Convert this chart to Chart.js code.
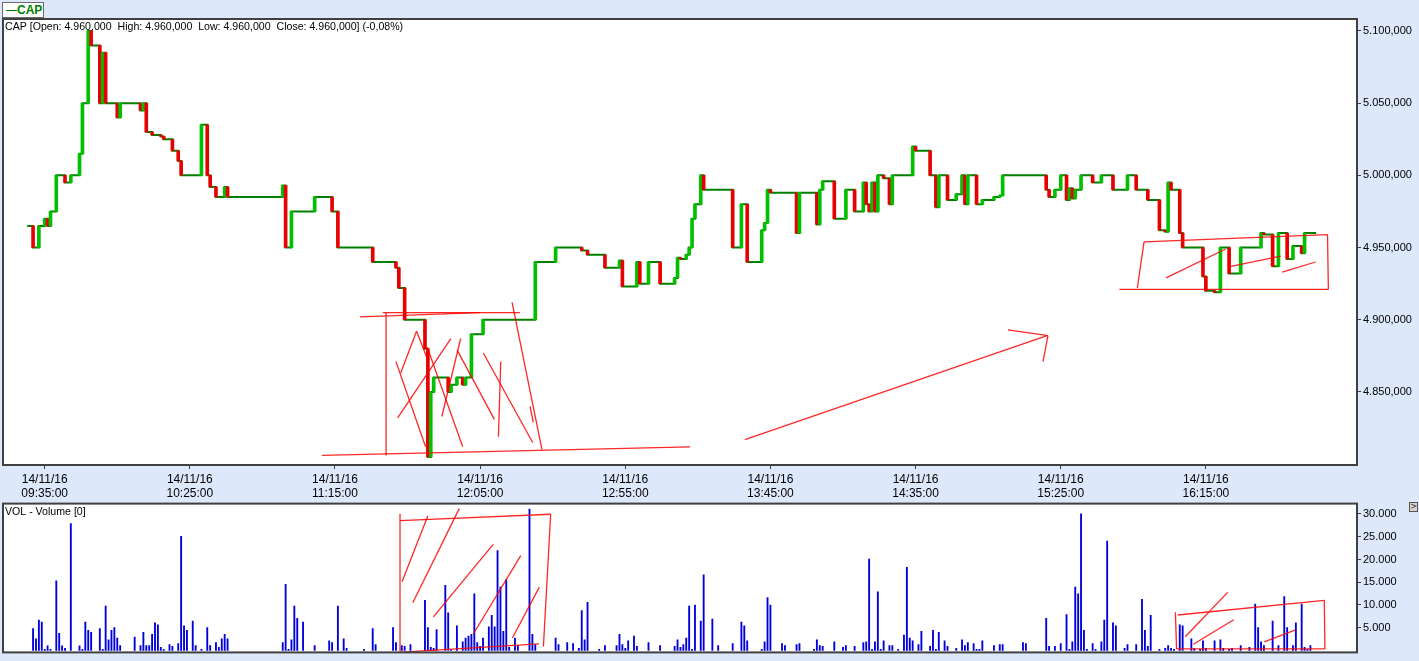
<!DOCTYPE html>
<html>
<head>
<meta charset="utf-8">
<title>CAP</title>
<script src="https://cdn.jsdelivr.net/npm/chart.js@4.4.0/dist/chart.umd.min.js"></script>
<style>
  html, body { margin: 0; padding: 0; width: 1419px; height: 661px; overflow: hidden; background: #dde8fb; }
  canvas { position: absolute; left: 0; }
  #priceChart { top: 0; }
  #volChart { top: 495px; }
  #legend { position: absolute; left: 2px; top: 2px; width: 40px; height: 14px; background: #fff; border: 1px solid #6a6a6a; }
  #legend .dash { position: absolute; left: 3px; top: 7px; width: 11px; height: 1px; background: #008000; }
  #legend .name { position: absolute; left: 14px; top: 0px; font: bold 12px "Liberation Sans", Arial, sans-serif; color: #008000; }
  #more { position: absolute; left: 1409px; top: 502px; width: 7px; height: 8px; border: 1px solid #555; background: #d6d3cc;
          font: 8px/8px "DejaVu Sans", sans-serif; text-align: center; color: #333; }
</style>
</head>
<body>
<canvas id="priceChart" width="1419" height="500"></canvas>
<canvas id="volChart" width="1419" height="166"></canvas>
<div id="legend"><span class="dash"></span><span class="name">CAP</span></div>
<div id="more">&gt;</div>
<script>
// session info
const sessionDate = '14/11/16';
const sessionStart = '09:35';
const changeText = '(-0,08%)';

// 1 minute bars (only the minutes where something moved)
const barTimes = ['09:29','09:31','09:33','09:35','09:36','09:37','09:39','09:42','09:44','09:47',
  '09:48','09:50','09:51','09:54','09:55','09:56','10:00','10:01','10:08','10:09',
  '10:10','10:12','10:15','10:16','10:19','10:21','10:22','10:29','10:31','10:32',
  '10:34','10:37','10:38','10:57','10:58','11:00','11:08','11:14','11:16','11:28',
  '11:36','11:37','11:39','11:46','11:47','11:48','11:49','11:54','11:55','11:57',
  '11:59','12:00','12:02','12:06','12:24','12:31','12:40','12:42','12:48','12:53',
  '12:54','12:59','13:00','13:03','13:07','13:12','13:13','13:14','13:16','13:17',
  '13:18','13:19','13:21','13:22','13:32','13:35','13:37','13:42','13:43','13:44',
  '13:45','13:54','13:55','14:01','14:02','14:03','14:07','14:11','14:14','14:17',
  '14:18','14:19','14:20','14:21','14:22','14:24','14:26','14:27','14:34','14:35',
  '14:40','14:42','14:43','14:46','14:49','14:51','14:52','14:53','14:56','14:58',
  '15:02','15:04','15:05','15:20','15:21','15:23','15:25','15:27','15:28','15:29',
  '15:30','15:32','15:36','15:39','15:43','15:48','15:51','15:55','15:59','16:01',
  '16:02','16:03','16:06','16:07','16:14','16:15','16:18','16:20','16:23','16:27',
  '16:34','16:35','16:38','16:40','16:43','16:45','16:48','16:49','16:53'];
const opens = [4965,4965,4950,4965,4970,4965,4975,5000,4995,5000,
  5015,5050,5100,5090,5050,5085,5050,5040,5050,5045,
  5050,5030,5028,5027,5025,5017,5010,5000,5035,5000,
  4992,4985,4992,4985,4993,4950,4975,4985,4975,4950,
  4940,4936,4922,4900,4880,4805,4850,4860,4850,4855,
  4860,4855,4860,4890,4900,4940,4950,4948,4945,4936,
  4941,4923,4940,4925,4940,4925,4929,4943,4942,4945,
  4950,4970,4980,5000,4990,4950,4980,4940,4962,4967,
  4990,4988,4960,4988,4966,4990,4996,4970,4990,4975,
  4995,4980,4975,4995,4975,5000,4998,4980,5000,5020,
  5017,5000,4978,5000,4983,4987,5000,4980,5000,4980,
  4983,4985,4986,5000,4990,4985,4990,5000,4983,4991,
  4984,4990,5000,4995,5000,4990,5000,4990,4983,4962,
  4961,4995,4990,4960,4950,4930,4920,4919,4950,4932,
  4950,4960,4959,4937,4960,4942,4951,4946,4960];
const closes = [4965,4950,4965,4970,4965,4975,5000,4995,5000,5015,
  5050,5100,5090,5050,5085,5050,5040,5050,5045,5050,
  5030,5028,5027,5025,5017,5010,5000,5035,5000,4992,
  4985,4992,4985,4993,4950,4975,4985,4975,4950,4940,
  4936,4922,4900,4880,4805,4850,4860,4850,4855,4860,
  4855,4860,4890,4900,4940,4950,4948,4945,4936,4941,
  4923,4940,4925,4940,4925,4929,4943,4942,4945,4950,
  4970,4980,5000,4990,4950,4980,4940,4962,4967,4990,
  4988,4960,4988,4966,4990,4996,4970,4990,4975,4995,
  4980,4975,4995,4975,5000,4998,4980,5000,5020,5017,
  5000,4978,5000,4983,4987,5000,4980,5000,4980,4983,
  4985,4986,5000,4990,4985,4990,5000,4983,4991,4984,
  4990,5000,4995,5000,4990,5000,4990,4983,4962,4961,
  4995,4990,4960,4950,4930,4920,4919,4950,4932,4950,
  4960,4959,4937,4960,4942,4951,4946,4960,4960];

// volume per minute
const volTimes = ['09:31','09:32','09:33','09:34','09:35','09:36','09:37','09:39','09:40','09:41',
  '09:42','09:44','09:47','09:48','09:49','09:50','09:51','09:54','09:55','09:56',
  '09:57','09:58','09:59','10:00','10:01','10:06','10:08','10:09','10:10','10:11',
  '10:12','10:13','10:14','10:15','10:16','10:18','10:19','10:21','10:22','10:23',
  '10:24','10:26','10:27','10:29','10:31','10:32','10:34','10:35','10:36','10:37',
  '10:38','10:57','10:58','10:59','11:00','11:01','11:02','11:04','11:08','11:13',
  '11:14','11:16','11:18','11:19','11:25','11:28','11:29','11:35','11:36','11:38',
  '11:39','11:41','11:46','11:47','11:48','11:49','11:50','11:53','11:54','11:55',
  '11:57','11:59','12:00','12:01','12:02','12:03','12:04','12:05','12:06','12:08',
  '12:09','12:10','12:11','12:12','12:13','12:14','12:15','12:17','12:18','12:22',
  '12:23','12:24','12:31','12:32','12:35','12:37','12:39','12:40','12:41','12:42',
  '12:46','12:48','12:52','12:53','12:54','12:55','12:56','12:58','12:59','13:03',
  '13:07','13:12','13:13','13:14','13:15','13:16','13:17','13:18','13:19','13:21',
  '13:22','13:25','13:27','13:32','13:35','13:36','13:37','13:42','13:43','13:44',
  '13:45','13:49','13:50','13:54','13:55','14:00','14:01','14:02','14:03','14:07',
  '14:10','14:11','14:14','14:17','14:18','14:19','14:20','14:21','14:22','14:23',
  '14:24','14:26','14:27','14:29','14:31','14:32','14:33','14:34','14:36','14:37',
  '14:40','14:41','14:42','14:43','14:45','14:46','14:49','14:51','14:52','14:53',
  '14:55','14:56','14:57','14:58','15:02','15:04','15:05','15:12','15:13','15:20',
  '15:21','15:23','15:25','15:27','15:28','15:29','15:30','15:31','15:32','15:33',
  '15:34','15:36','15:37','15:39','15:40','15:41','15:43','15:44','15:47','15:48',
  '15:51','15:53','15:54','15:55','15:56','15:59','16:01','16:02','16:03','16:04',
  '16:06','16:07','16:10','16:11','16:13','16:14','16:15','16:18','16:20','16:21',
  '16:23','16:24','16:27','16:30','16:32','16:33','16:34','16:35','16:38','16:40',
  '16:42','16:43','16:45','16:46','16:48','16:49','16:50','16:51'];
const volumes = [4820,2550,6680,6270,275,1030,275,15290,3790,1030,
  480,27890,1030,275,6270,4410,4000,4820,275,9780,
  2340,4410,5030,2750,1100,2960,1100,4000,1100,1100,
  3580,6060,5650,690,275,1310,900,1520,25070,5440,
  4410,6470,1100,275,5030,1100,1720,690,2550,3580,
  2550,1720,14530,275,2340,9780,7090,6270,1100,2130,
  1720,9780,2550,480,275,4820,1310,5030,1720,1100,
  900,1310,11020,5030,690,480,4610,14330,8260,275,
  5440,1930,2750,3170,3580,12470,1720,900,2750,5230,
  7710,5230,21970,13910,4200,15560,690,2750,1100,31060,
  3580,1310,2750,1310,1720,1520,480,8750,2340,10610,
  275,1100,1100,3580,1310,480,2130,3170,900,1720,
  1100,900,2340,690,1310,2750,9780,275,9990,6470,
  16600,6890,1100,1520,6270,5440,2130,275,1930,11640,
  9990,1520,1100,1310,1520,275,2340,1100,900,1930,
  690,1100,900,1720,1930,20110,275,1930,12880,275,
  2130,1100,1100,275,3380,18250,2750,2130,1310,4200,
  900,4410,275,4000,2130,900,480,2340,1100,1720,
  1520,275,275,2130,1100,1310,1310,1720,1520,7090,
  900,900,1520,7920,275,1930,13910,12470,30030,4410,
  275,1520,275,1930,6680,24040,6060,5440,480,1310,
  1310,11230,4410,900,7710,275,480,1100,480,275,
  5650,5440,2550,480,275,2130,480,2130,2340,480,
  275,480,1100,690,10190,5030,1930,1100,6470,1100,
  11850,5030,1100,6060,10190,690,275,1100];

// axes
const timeTicks = [0, 50, 100, 150, 200, 250, 300, 350, 400];   // minutes after 09:35
const priceTicks = [4850, 4900, 4950, 5000, 5050, 5100];
const volTicks = [5000, 10000, 15000, 20000, 25000, 30000];

// hand drawn red marks: [minute after 09:35, value, minute, value]
const priceMarks = [
  [108.6, 4902, 149.9, 4905], [116.5, 4905, 163.7, 4905], [117.6, 4905, 117.6, 4806],
  [95.5, 4806, 222.3, 4812], [161, 4912, 171.3, 4810],
  [121, 4871, 131.2, 4812], [122.6, 4863, 128.1, 4892], [128.1, 4892, 131.8, 4873],
  [121.6, 4832, 139.9, 4887], [136.8, 4833, 143.3, 4887], [131.8, 4881, 144, 4812],
  [142.1, 4879, 154.9, 4831], [151.1, 4877, 168.1, 4815], [157.1, 4871, 156.3, 4819],
  [167.2, 4840, 168.3, 4829],
  [241.2, 4817, 345.3, 4889], [331.8, 4893, 345.6, 4889], [345.6, 4889, 343.9, 4871],
  [378.7, 4954, 441.9, 4959], [378.7, 4954, 376.4, 4922], [441.9, 4959, 442.2, 4921],
  [370.2, 4921, 442.2, 4921], [386.3, 4929, 406.8, 4949], [408.6, 4937, 425.8, 4944],
  [426.3, 4933, 437.8, 4940]
];
const volMarks = [
  [122.4, 28550, 174.3, 29940], [122.4, 30000, 122.4, -200], [174.3, 29940, 171.8, 890],
  [121.7, -410, 170.3, 1450], [123.1, 15100, 132, 29590], [126.8, 10490, 142.8, 31180],
  [133.9, 7390, 154.5, 23320], [147.6, 3580, 164, 20840], [161.1, 2750, 170.4, 13920],
  [389.5, 8420, 389.9, 350], [390.3, 7800, 440.8, 11030], [440.8, 11030, 441, 350],
  [389.9, 350, 441, 350], [392.9, 3040, 407.5, 12770], [395.7, 1390, 409.6, 6770],
  [420.1, 1920, 430.9, 4550]
];

const UP = '#00c000', DOWN = '#e60000', STEP = '#008000', VOLCOL = '#0000dc';
const FONT = '"Liberation Sans", Arial, sans-serif';

function hm(s) {
  const p = s.split(':');
  return (+p[0]) * 60 + (+p[1]);
}
const startMin = hm(sessionStart);
function toMin(s) { return hm(s) - startMin; }

function dots(n) {
  return Math.round(n).toString().replace(/\B(?=(\d{3})+(?!\d))/g, '.');
}
function timeLabel(v) {
  const t = startMin + v;
  const h = Math.floor(t / 60), m = t % 60;
  return (h < 10 ? '0' : '') + h + ':' + (m < 10 ? '0' : '') + m + ':00';
}

Chart.defaults.font.family = FONT;
Chart.defaults.font.size = 11;
Chart.defaults.color = '#000';

// white pane, title, red marks and the dark frame
function paneFrame(title, marks) {
  return {
    id: 'paneFrame',
    beforeDraw(chart) {
      const a = chart.chartArea, ctx = chart.ctx;
      ctx.save();
      ctx.fillStyle = '#fff';
      ctx.fillRect(a.left, a.top, a.width, a.height);
      ctx.restore();
    },
    beforeDatasetsDraw(chart) {
      const a = chart.chartArea, ctx = chart.ctx;
      ctx.save();
      ctx.fillStyle = '#000';
      ctx.font = '10.6px ' + FONT;
      ctx.textBaseline = 'middle';
      ctx.fillText(title, a.left + 2, a.top + 8.5);
      ctx.restore();
    },
    afterDatasetsDraw(chart) {
      const a = chart.chartArea, ctx = chart.ctx;
      const xs = chart.scales.x, ys = chart.scales.y;
      ctx.save();
      ctx.beginPath();
      ctx.rect(a.left, a.top, a.width, a.height);
      ctx.clip();
      ctx.strokeStyle = 'rgba(255,0,0,0.85)';
      ctx.lineWidth = 1.3;
      marks.forEach(m => {
        ctx.beginPath();
        ctx.moveTo(xs.getPixelForValue(m[0]), ys.getPixelForValue(m[1]));
        ctx.lineTo(xs.getPixelForValue(m[2]), ys.getPixelForValue(m[3]));
        ctx.stroke();
      });
      ctx.restore();
      ctx.save();
      ctx.strokeStyle = '#404040';
      ctx.lineWidth = 2;
      ctx.strokeRect(a.left, a.top, a.width, a.height);
      ctx.restore();
    }
  };
}

const xRange = { min: -14.36, max: 452.06 };

const last = barTimes.length - 1;
const hi = Math.max(opens[last], closes[last]), lo = Math.min(opens[last], closes[last]);
const header = 'CAP [Open: ' + dots(opens[last]) + ',000  High: ' + dots(hi) + ',000  Low: ' + dots(lo) +
  ',000  Close: ' + dots(closes[last]) + ',000] ' + changeText;

new Chart(document.getElementById('priceChart'), {
  type: 'bar',
  data: {
    datasets: [{
      type: 'bar',
      order: 0,
      data: barTimes.map((t, i) => ({ x: toMin(t), y: [opens[i], closes[i]] })),
      backgroundColor: ctx => {
        const r = ctx.raw;
        if (!r) return UP;
        return r.y[1] > r.y[0] ? UP : (r.y[1] < r.y[0] ? DOWN : 'rgba(0,0,0,0)');
      },
      borderWidth: 0,
      barThickness: 3,
      grouped: false
    }, {
      type: 'line',
      order: 1,
      data: barTimes.map((t, i) => ({ x: toMin(t), y: closes[i] })),
      borderColor: STEP,
      borderWidth: 2,
      stepped: true,
      pointRadius: 0,
      fill: false
    }]
  },
  options: {
    responsive: false,
    animation: false,
    layout: { padding: { top: 19, left: 3, right: 0, bottom: 0 } },
    plugins: { legend: { display: false }, tooltip: { enabled: false } },
    scales: {
      x: {
        type: 'linear',
        min: xRange.min, max: xRange.max,
        offset: false,
        afterBuildTicks: s => { s.ticks = timeTicks.map(v => ({ value: v })); },
        afterFit: s => { s.height = 35; },
        grid: { drawOnChartArea: false, drawTicks: true, tickLength: 4, color: '#404040', offset: false },
        border: { display: false },
        ticks: {
          padding: 3,
          maxRotation: 0,
          autoSkip: false,
          font: { size: 12, lineHeight: 1.2 },
          callback: v => [sessionDate, timeLabel(v)]
        }
      },
      y: {
        position: 'right',
        min: 4799.4, max: 5108.3,
        afterBuildTicks: s => { s.ticks = priceTicks.map(v => ({ value: v })); },
        afterFit: s => { s.width = 62; },
        grid: { drawOnChartArea: false, drawTicks: true, tickLength: 4, color: '#404040' },
        border: { display: false },
        ticks: { padding: 2, callback: v => dots(v) + ',000' }
      }
    }
  },
  plugins: [paneFrame(header, priceMarks)]
});

new Chart(document.getElementById('volChart'), {
  type: 'bar',
  data: {
    datasets: [{
      data: volTimes.map((t, i) => ({ x: toMin(t), y: volumes[i] })),
      backgroundColor: VOLCOL,
      borderWidth: 0,
      barThickness: 1.2,
      grouped: false
    }]
  },
  options: {
    responsive: false,
    animation: false,
    layout: { padding: { top: 4, left: 3, right: 0, bottom: 4 } },
    plugins: { legend: { display: false }, tooltip: { enabled: false } },
    scales: {
      x: { type: 'linear', display: false, min: xRange.min, max: xRange.max, offset: false },
      y: {
        position: 'right',
        min: -414, max: 32276,
        afterBuildTicks: s => { s.ticks = volTicks.map(v => ({ value: v })); },
        afterFit: s => { s.width = 62; },
        grid: { drawOnChartArea: false, drawTicks: true, tickLength: 4, color: '#404040' },
        border: { display: false },
        ticks: { padding: 2, callback: v => dots(v) }
      }
    }
  },
  plugins: [paneFrame('VOL - Volume [0]', volMarks)]
});
</script>
</body>
</html>
